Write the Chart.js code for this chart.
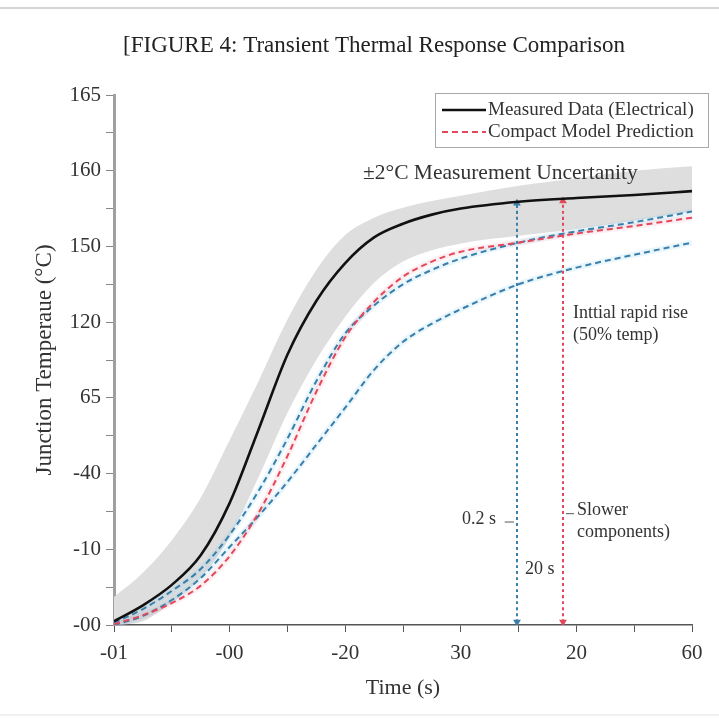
<!DOCTYPE html>
<html>
<head>
<meta charset="utf-8">
<title>Transient Thermal Response Comparison</title>
<script src="https://cdn.jsdelivr.net/npm/chart.js@4.4.1/dist/chart.umd.min.js"></script>
<style>
  html, body { margin: 0; padding: 0; background: #fff; }
  #wrap { width: 719px; height: 720px; }
</style>
</head>
<body>
<div id="wrap"><canvas id="chart" width="719" height="720"></canvas></div>
<script>
// Tick labels as printed on the figure (evenly spaced positions)
const xTickLabels = ['-01', '-00', '-20', '30', '20', '60'];
const yTickLabels = ['-00', '-10', '-40', '65', '120', '150', '160', '165'];

// Sample times, in tick units along the x axis
const timePts = [0, 0.25, 0.5, 0.75, 1.0, 1.25, 1.5, 1.75, 2.0, 2.25, 2.5, 2.75, 3.0, 3.5, 4.0, 4.5, 5.0];

// Series values, in tick units along the y axis
const measured   = [0.05, 0.26, 0.53, 0.92, 1.61, 2.58, 3.57, 4.28, 4.78, 5.12, 5.30, 5.42, 5.50, 5.59, 5.64, 5.68, 5.73];
const bandUpper  = [0.37, 0.69, 1.12, 1.68, 2.44, 3.22, 4.03, 4.69, 5.15, 5.38, 5.51, 5.60, 5.67, 5.80, 5.90, 6.00, 6.06];
const bandLower  = [0.00, 0.05, 0.30, 0.62, 1.16, 1.95, 2.80, 3.50, 4.07, 4.52, 4.80, 4.95, 5.04, 5.14, 5.23, 5.34, 5.46];
const modelRed   = [0.01, 0.13, 0.29, 0.52, 0.91, 1.48, 2.23, 3.08, 3.80, 4.27, 4.60, 4.80, 4.93, 5.05, 5.17, 5.27, 5.38];
const modelBlueA = [0.03, 0.21, 0.45, 0.74, 1.19, 1.77, 2.46, 3.22, 3.85, 4.22, 4.50, 4.69, 4.84, 5.05, 5.20, 5.32, 5.46];
const modelBlueB = [0.00, 0.12, 0.33, 0.62, 1.03, 1.44, 1.89, 2.38, 2.87, 3.37, 3.74, 3.98, 4.17, 4.50, 4.72, 4.89, 5.05];

// Time-constant markers (vertical dotted arrows)
const markerTimes = [3.486, 3.884];
const markerTops  = [5.57, 5.60];

const SERIF = '"Liberation Serif", "Times New Roman", serif';
const RED = '#e2475a';
const BLUE = '#3a7eaa';

function pts(ys) {
  return timePts.map((t, i) => ({ x: t, y: ys[i] }));
}

function markerLine(i, color) {
  return {
    label: 'marker' + i,
    data: [{ x: markerTimes[i], y: 0.04 }, { x: markerTimes[i], y: markerTops[i] }],
    borderColor: color,
    borderWidth: 2,
    borderDash: [3, 3],
    pointStyle: 'triangle',
    pointRotation: [180, 0],
    pointRadius: 4.5,
    pointBackgroundColor: color,
    pointBorderWidth: 0,
    order: 1
  };
}

// faint glow under the dashed model curves
function halo(ys, color) {
  return { label: 'halo', data: pts(ys), borderColor: color, borderWidth: 6, order: 5 };
}

// Text notes placed in axis units
const notes = [
  { text: '\u00b12\u00b0C Measurement Uncertanity', x: 2.154, y: 5.97, size: 21.5 },
  { text: 'Inttial rapid rise', x: 3.97, y: 4.12, size: 18 },
  { text: '(50% temp)', x: 3.97, y: 3.83, size: 18 },
  { text: '0.2 s', x: 3.01, y: 1.39, size: 18 },
  { text: '20 s', x: 3.555, y: 0.73, size: 18 },
  { text: 'Slower', x: 4.006, y: 1.52, size: 18 },
  { text: 'components)', x: 4.006, y: 1.23, size: 18 }
];
const noteDashes = [
  { x1: 3.38, x2: 3.46, y: 1.36 },
  { x1: 3.91, x2: 3.98, y: 1.47 }
];

const figurePlugin = {
  id: 'figure',
  beforeDraw(chart) {
    const ctx = chart.ctx;
    ctx.save();
    ctx.fillStyle = '#fff';
    ctx.fillRect(0, 0, chart.width, chart.height);
    ctx.strokeStyle = '#d4d4d4';
    ctx.lineWidth = 2;
    ctx.beginPath();
    ctx.moveTo(0, 8);
    ctx.lineTo(chart.width, 8);
    ctx.stroke();
    ctx.strokeStyle = '#f0f0f0';
    ctx.beginPath();
    ctx.moveTo(0, 715);
    ctx.lineTo(chart.width, 715);
    ctx.stroke();
    // figure title
    ctx.fillStyle = '#222';
    ctx.font = '23px ' + SERIF;
    ctx.textAlign = 'center';
    ctx.textBaseline = 'middle';
    ctx.fillText('[FIGURE 4: Transient Thermal Response Comparison', 374, 46);
    ctx.restore();
  },
  afterDatasetsDraw(chart) {
    const ctx = chart.ctx;
    const xs = chart.scales.x, ys = chart.scales.y;
    ctx.save();
    ctx.fillStyle = '#333';
    ctx.textBaseline = 'middle';
    ctx.textAlign = 'left';
    notes.forEach(n => {
      ctx.font = n.size + 'px ' + SERIF;
      ctx.fillText(n.text, xs.getPixelForValue(n.x), ys.getPixelForValue(n.y));
    });
    ctx.strokeStyle = '#555';
    ctx.lineWidth = 1;
    noteDashes.forEach(d => {
      ctx.beginPath();
      ctx.moveTo(xs.getPixelForValue(d.x1), ys.getPixelForValue(d.y));
      ctx.lineTo(xs.getPixelForValue(d.x2), ys.getPixelForValue(d.y));
      ctx.stroke();
    });
    ctx.restore();
  },
  afterDraw(chart) {
    // legend box with two entries
    const ctx = chart.ctx;
    const ds = chart.data.datasets;
    const entries = [ds[0], ds[1]];
    ctx.save();
    ctx.fillStyle = '#fff';
    ctx.fillRect(435, 93, 273, 54);
    ctx.strokeStyle = '#a8a8a8';
    ctx.lineWidth = 1;
    ctx.strokeRect(435.5, 93.5, 273, 54);
    ctx.font = '19px ' + SERIF;
    ctx.textBaseline = 'middle';
    ctx.fillStyle = '#333';
    entries.forEach((d, i) => {
      const y = 110 + i * 22;
      ctx.strokeStyle = d.borderColor;
      ctx.lineWidth = d.borderWidth;
      ctx.setLineDash(d.borderDash || []);
      ctx.beginPath();
      ctx.moveTo(442, y);
      ctx.lineTo(486, y);
      ctx.stroke();
      ctx.setLineDash([]);
      ctx.fillText(d.label, 488, y);
    });
    ctx.restore();
  }
};

new Chart(document.getElementById('chart'), {
  type: 'line',
  data: {
    datasets: [
      { label: 'Measured Data (Electrical)', data: pts(measured), borderColor: '#111', borderWidth: 2.6, order: 0 },
      { label: 'Compact Model Prediction', data: pts(modelRed), borderColor: RED, borderWidth: 2, borderDash: [6, 4], order: 2 },
      { label: 'model fast', data: pts(modelBlueA), borderColor: BLUE, borderWidth: 2, borderDash: [6, 4], order: 3 },
      { label: 'model slow', data: pts(modelBlueB), borderColor: BLUE, borderWidth: 2, borderDash: [6, 4], order: 3 },
      markerLine(0, BLUE),
      markerLine(1, RED),
      halo(modelRed, 'rgba(240,120,140,0.12)'),
      halo(modelBlueA, 'rgba(120,200,235,0.16)'),
      halo(modelBlueB, 'rgba(120,200,235,0.16)'),
      { label: 'band low', data: pts(bandLower), borderWidth: 0, borderColor: 'rgba(0,0,0,0)', order: 10 },
      { label: 'band high', data: pts(bandUpper), borderWidth: 0, borderColor: 'rgba(0,0,0,0)',
        backgroundColor: '#dedede', fill: '-1', order: 10 }
    ]
  },
  options: {
    responsive: false,
    animation: false,
    events: [],
    layout: { padding: { left: 0, right: 27, top: 95, bottom: 0 } },
    elements: {
      point: { radius: 0 },
      line: { cubicInterpolationMode: 'monotone' }
    },
    plugins: {
      legend: { display: false },
      tooltip: { enabled: false },
      title: { display: false }
    },
    scales: {
      x: {
        type: 'linear', min: 0, max: 5,
        afterFit(s) { s.height = 95; },
        border: { color: '#555', width: 1.5 },
        grid: { drawOnChartArea: false, tickLength: 7, tickColor: '#555' },
        ticks: {
          stepSize: 0.5, autoSkip: false, maxRotation: 0, padding: 9,
          color: '#333', font: { family: SERIF, size: 21 },
          callback: v => Number.isInteger(v) ? xTickLabels[v] : ''
        },
        title: {
          display: true, text: 'Time (s)', color: '#333',
          font: { family: SERIF, size: 22 }, padding: { top: 0, bottom: 19 }
        }
      },
      y: {
        type: 'linear', min: 0, max: 7,
        afterFit(s) { s.width = 114; },
        border: { color: '#a0a0a0', width: 3 },
        grid: { drawOnChartArea: false, tickLength: 8, tickColor: '#888' },
        ticks: {
          stepSize: 0.5, autoSkip: false, padding: 5,
          color: '#333', font: { family: SERIF, size: 21 },
          callback: v => Number.isInteger(v) ? yTickLabels[v] : ''
        },
        title: {
          display: true, text: 'Junction Temperaue (\u00b0C)', color: '#333',
          font: { family: SERIF, size: 23 }, padding: { top: 31, bottom: 0 }
        }
      }
    }
  },
  plugins: [figurePlugin]
});
</script>
</body>
</html>
